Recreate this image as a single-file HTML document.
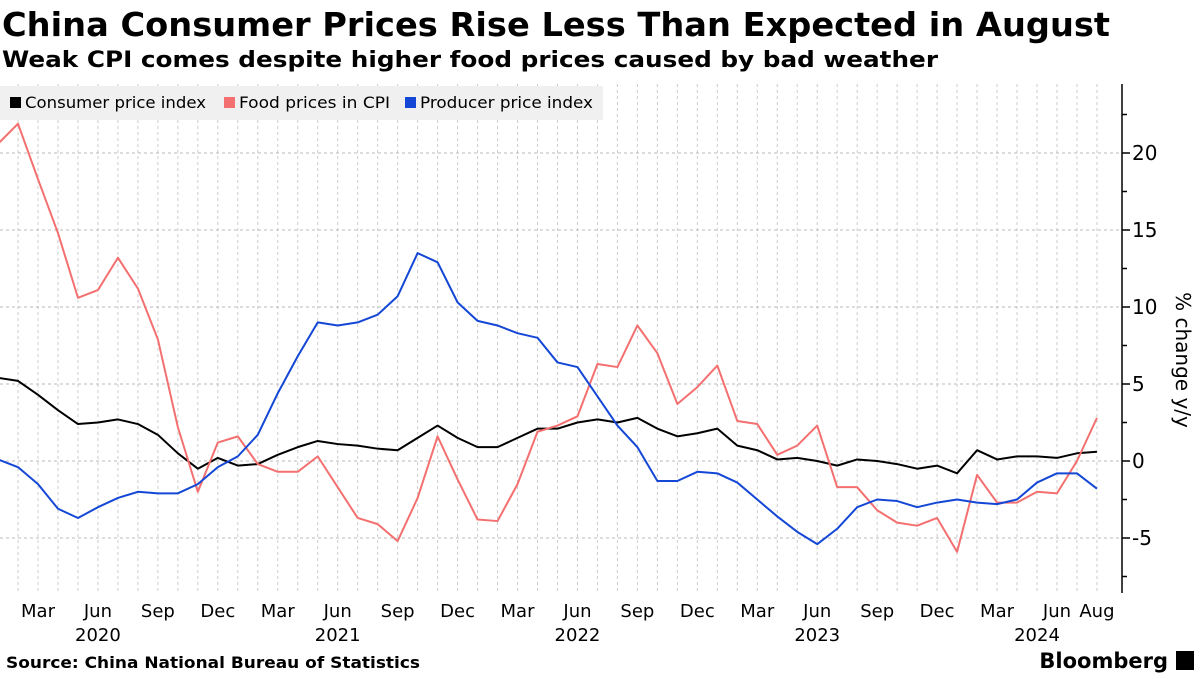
<!DOCTYPE html>
<html><head><meta charset="utf-8"><style>
body{margin:0;background:#fff;width:1200px;height:675px;overflow:hidden;font-family:"DejaVu Sans","Liberation Sans",sans-serif;}
</style></head><body>
<svg width="1200" height="675" xmlns="http://www.w3.org/2000/svg">
<text x="2" y="36" font-size="33" font-weight="bold" fill="#000" textLength="1108" lengthAdjust="spacingAndGlyphs">China Consumer Prices Rise Less Than Expected in August</text>
<text x="2" y="67" font-size="22" font-weight="bold" fill="#000" textLength="936" lengthAdjust="spacingAndGlyphs">Weak CPI comes despite higher food prices caused by bad weather</text>
<g id="grid"></g>
<g id="series"></g>
<g id="axes"></g>
<rect x="0" y="86" width="603" height="34" fill="#f0f0f0"/>
<rect x="10" y="97" width="11" height="11" fill="#000"/>
<text x="25" y="108" font-size="16" textLength="181" lengthAdjust="spacingAndGlyphs">Consumer price index</text>
<rect x="224" y="97" width="11" height="11" fill="#f47070"/>
<text x="239" y="108" font-size="16" textLength="151" lengthAdjust="spacingAndGlyphs">Food prices in CPI</text>
<rect x="405" y="97" width="11" height="11" fill="#1447d6"/>
<text x="420" y="108" font-size="16" textLength="173" lengthAdjust="spacingAndGlyphs">Producer price index</text>
<text x="1176" y="360" font-size="20" transform="rotate(90 1176 360)" text-anchor="middle">% change y/y</text>
<text x="6" y="668" font-size="16" font-weight="bold" textLength="414" lengthAdjust="spacingAndGlyphs">Source: China National Bureau of Statistics</text>
<text x="1168" y="668" font-size="21" font-weight="bold" text-anchor="end">Bloomberg</text>
<rect x="1176" y="651" width="18" height="19" fill="#000"/>
</svg>
<script>
const cpi=[5.4,5.2,4.3,3.3,2.4,2.5,2.7,2.4,1.7,0.5,-0.5,0.2,-0.3,-0.2,0.4,0.9,1.3,1.1,1.0,0.8,0.7,1.5,2.3,1.5,0.9,0.9,1.5,2.1,2.1,2.5,2.7,2.5,2.8,2.1,1.6,1.8,2.1,1.0,0.7,0.1,0.2,0.0,-0.3,0.1,0.0,-0.2,-0.5,-0.3,-0.8,0.7,0.1,0.3,0.3,0.2,0.5,0.6];
const food=[20.6,21.9,18.3,14.8,10.6,11.1,13.2,11.2,7.9,2.2,-2.0,1.2,1.6,-0.2,-0.7,-0.7,0.3,-1.7,-3.7,-4.1,-5.2,-2.4,1.6,-1.2,-3.8,-3.9,-1.5,1.9,2.3,2.9,6.3,6.1,8.8,7.0,3.7,4.8,6.2,2.6,2.4,0.4,1.0,2.3,-1.7,-1.7,-3.2,-4.0,-4.2,-3.7,-5.9,-0.9,-2.7,-2.7,-2.0,-2.1,0.0,2.8];
const ppi=[0.1,-0.4,-1.5,-3.1,-3.7,-3.0,-2.4,-2.0,-2.1,-2.1,-1.5,-0.4,0.3,1.7,4.4,6.8,9.0,8.8,9.0,9.5,10.7,13.5,12.9,10.3,9.1,8.8,8.3,8.0,6.4,6.1,4.2,2.3,0.9,-1.3,-1.3,-0.7,-0.8,-1.4,-2.5,-3.6,-4.6,-5.4,-4.4,-3.0,-2.5,-2.6,-3.0,-2.7,-2.5,-2.7,-2.8,-2.5,-1.4,-0.8,-0.8,-1.8];
const yTicks=[-5,0,5,10,15,20];
const xTickIdx=[2,5,8,11,14,17,20,23,26,29,32,35,38,41,44,47,50,53,55];
const xTickLabels=["Mar","Jun","Sep","Dec","Mar","Jun","Sep","Dec","Mar","Jun","Sep","Dec","Mar","Jun","Sep","Dec","Mar","Jun","Aug"];
const yearIdx=[5,17,29,41,52];
const yearLabels=["2020","2021","2022","2023","2024"];
const NS="http://www.w3.org/2000/svg";
const X=i=>38+(i-2)*19.98;
const Y=v=>461-v*15.4;
const plotTop=84,plotBot=593,axX=1122;
function mk(t,a,p){const e=document.createElementNS(NS,t);for(const k in a)e.setAttribute(k,a[k]);p.appendChild(e);return e;}
const grid=document.getElementById('grid'),ser=document.getElementById('series'),ax=document.getElementById('axes');
for(let i=0;i<cpi.length;i++){
 const l=mk('line',{x1:X(i),x2:X(i),y1:plotTop,y2:plotBot,stroke:'#ccc','stroke-dasharray':'3,3','stroke-width':1},grid);
 
 
}
yTicks.forEach(v=>{
 const l=mk('line',{x1:0,x2:axX,y1:Y(v),y2:Y(v),stroke:'#bbb','stroke-dasharray':'3,3','stroke-width':1},grid);
 
 
 const t=mk('line',{x1:axX,x2:axX+8,y1:Y(v),y2:Y(v),stroke:'#000','stroke-width':1.5},ax);
 
 
 const tx=mk('text',{x:axX+10,y:Y(v)+7,'font-size':20},ax);tx.textContent=v;
 
 
});
for(let v=-7.5;v<=22.5;v+=5){
 const t=mk('line',{x1:axX,x2:axX+5,y1:Y(v),y2:Y(v),stroke:'#000','stroke-width':1.5},ax);
 
 
}
const al=mk('line',{x1:axX,x2:axX,y1:plotTop,y2:plotBot,stroke:'#000','stroke-width':1.5},ax);


xTickIdx.forEach((i,k)=>{
 const t=mk('text',{x:X(i),y:617,'font-size':18,'text-anchor':'middle'},ax);t.textContent=xTickLabels[k];
 
 
});
yearIdx.forEach((i,k)=>{
 const t=mk('text',{x:X(i),y:641,'font-size':18,'text-anchor':'middle'},ax);t.textContent=yearLabels[k];
 
 
});
function line(d,c,name){
 const p=mk('polyline',{points:d.map((v,i)=>X(i)+','+Y(v)).join(' '),fill:'none',stroke:c,'stroke-width':2,'stroke-linejoin':'round'},ser);
 
 
}
line(cpi,'#000','cpi-line');
line(food,'#f47070','food-line');
line(ppi,'#1447d6','ppi-line');
</script>
</body></html>
